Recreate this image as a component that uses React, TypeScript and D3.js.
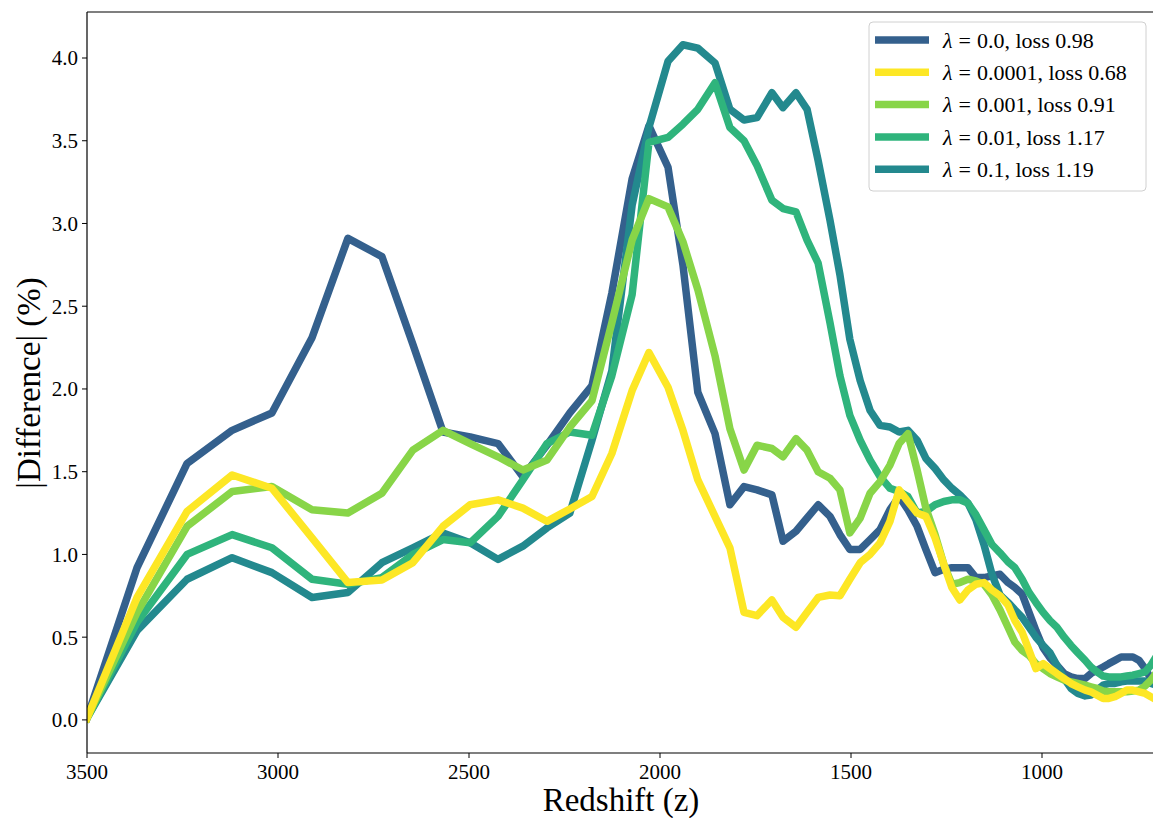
import React from "react";
import * as d3 from "d3";

// Redshift grid (shared by all curves)
const redshift: number[] = [
  3500, 3369, 3238, 3120, 3016, 2911, 2817, 2728, 2647, 2568,
  2497, 2424, 2359, 2296, 2236, 2178, 2126, 2073, 2029, 1979,
  1940, 1901, 1856, 1817, 1780, 1746, 1707, 1678, 1644, 1615,
  1586, 1555, 1529, 1503, 1476, 1450, 1424, 1398, 1374, 1351,
  1327, 1304, 1280, 1257, 1236, 1215, 1194, 1173, 1152, 1131,
  1110, 1089, 1071, 1052, 1034, 1016, 997, 979, 961, 942,
  924, 906, 887, 872, 856, 840, 825, 809, 793, 778,
  762, 746, 730, 715, 699,
];

const lam0: number[] = [
  0.01, 0.92, 1.55, 1.75, 1.855, 2.31, 2.91, 2.80, 2.27, 1.74,
  1.71, 1.67, 1.47, 1.66, 1.855, 2.02, 2.58, 3.27, 3.59, 3.34,
  2.75, 1.98, 1.73, 1.30, 1.41, 1.39, 1.36, 1.08, 1.14, 1.22,
  1.30, 1.23, 1.12, 1.03, 1.03, 1.09, 1.15, 1.27, 1.35, 1.27,
  1.17, 1.03, 0.89, 0.91, 0.92, 0.92, 0.92, 0.86, 0.86, 0.87,
  0.88, 0.83, 0.80, 0.76, 0.65, 0.54, 0.435, 0.375, 0.33, 0.28,
  0.26, 0.25, 0.25, 0.28, 0.30, 0.32, 0.34, 0.36, 0.38, 0.38,
  0.38, 0.36, 0.31, 0.25, 0.21,
];

const lam1e4: number[] = [
  0.01, 0.74, 1.26, 1.48, 1.40, 1.10, 0.83, 0.845, 0.95, 1.17,
  1.30, 1.33, 1.28, 1.20, 1.275, 1.35, 1.61, 1.99, 2.22, 2.01,
  1.75, 1.45, 1.23, 1.04, 0.65, 0.63, 0.725, 0.62, 0.56, 0.65,
  0.74, 0.755, 0.75, 0.85, 0.95, 1.00, 1.07, 1.20, 1.39, 1.32,
  1.25, 1.23, 1.10, 0.94, 0.80, 0.725, 0.785, 0.82, 0.83, 0.785,
  0.75, 0.695, 0.60, 0.53, 0.42, 0.31, 0.34, 0.31, 0.28, 0.25,
  0.22, 0.20, 0.18, 0.17, 0.15, 0.13, 0.13, 0.14, 0.16, 0.18,
  0.18, 0.17, 0.16, 0.14, 0.12,
];

const lam1e3: number[] = [
  0.01, 0.65, 1.17, 1.38, 1.41, 1.27, 1.25, 1.37, 1.63, 1.75,
  1.67, 1.59, 1.51, 1.57, 1.77, 1.93, 2.40, 2.90, 3.15, 3.10,
  2.89, 2.60, 2.20, 1.76, 1.51, 1.66, 1.64, 1.59, 1.70, 1.63,
  1.50, 1.46, 1.39, 1.13, 1.22, 1.37, 1.44, 1.54, 1.67, 1.73,
  1.51, 1.28, 1.12, 0.94, 0.82, 0.83, 0.85, 0.84, 0.82, 0.755,
  0.665, 0.56, 0.47, 0.42, 0.39, 0.34, 0.31, 0.28, 0.26, 0.24,
  0.23, 0.22, 0.21, 0.20, 0.19, 0.175, 0.17, 0.17, 0.17, 0.17,
  0.175, 0.18, 0.205, 0.24, 0.29,
];

const lam1e2: number[] = [
  0.01, 0.59, 1.00, 1.12, 1.04, 0.85, 0.82, 0.86, 1.00, 1.09,
  1.07, 1.23, 1.45, 1.67, 1.74, 1.72, 2.08, 2.57, 3.49, 3.52,
  3.60, 3.69, 3.85, 3.58, 3.50, 3.35, 3.14, 3.09, 3.07, 2.90,
  2.76, 2.40, 2.08, 1.84, 1.69, 1.57, 1.47, 1.40, 1.38, 1.35,
  1.25, 1.26, 1.30, 1.32, 1.33, 1.33, 1.31, 1.24, 1.15, 1.06,
  1.01, 0.955, 0.92, 0.85, 0.77, 0.71, 0.65, 0.60, 0.56, 0.50,
  0.45, 0.405, 0.36, 0.32, 0.29, 0.265, 0.26, 0.26, 0.26, 0.265,
  0.27, 0.28, 0.29, 0.33, 0.39,
];

const lam1e1: number[] = [
  0.01, 0.54, 0.85, 0.98, 0.89, 0.74, 0.77, 0.95, 1.04, 1.13,
  1.07, 0.97, 1.05, 1.16, 1.25, 1.69, 2.11, 3.11, 3.58, 3.98,
  4.08, 4.06, 3.97, 3.69, 3.625, 3.64, 3.79, 3.70, 3.79, 3.69,
  3.38, 3.02, 2.69, 2.30, 2.05, 1.87, 1.78, 1.77, 1.74, 1.75,
  1.69, 1.58, 1.52, 1.45, 1.40, 1.36, 1.31, 1.21, 1.06, 0.88,
  0.755, 0.71, 0.665, 0.62, 0.56, 0.50, 0.45, 0.405, 0.33, 0.25,
  0.19, 0.16, 0.145, 0.15, 0.18, 0.21, 0.22, 0.22, 0.23, 0.235,
  0.235, 0.235, 0.235, 0.22, 0.21,
];

const legendValues: string[] = [
  "0.0, loss 0.98",
  "0.0001, loss 0.68",
  "0.001, loss 0.91",
  "0.01, loss 1.17",
  "0.1, loss 1.19",
];
const seriesColors: string[] = ["#34608d", "#fde725", "#88d548", "#2fb47c", "#23898e"];
const seriesValues: number[][] = [lam0, lam1e4, lam1e3, lam1e2, lam1e1];
const drawOrder: number[] = [0, 4, 3, 2, 1];

const xTicks: number[] = [3500, 3000, 2500, 2000, 1500, 1000];
const yTicks: number[] = [0, 0.5, 1, 1.5, 2, 2.5, 3, 3.5, 4];

const W = 1153;
const H = 818;
const L = 87;
const T = 12;
const B = 753;
const R = 1200;
const FONT = "'Liberation Serif', 'DejaVu Serif', serif";

export default function App() {
  const x = d3.scaleLinear().domain([3500, 1000]).range([L, 1042]);
  const y = d3.scaleLinear().domain([-0.2, 4.278]).range([B, T]);
  const line = d3
    .line<[number, number]>()
    .x((d) => x(d[0]))
    .y((d) => y(d[1]));

  return (
    <svg
      width={W}
      height={H}
      style={{ position: "absolute", left: 0, top: 0, background: "#fff" }}
      fontFamily={FONT}
    >
      <defs>
        <clipPath id="plotclip">
          <rect x={L} y={T} width={R - L} height={B - T} />
        </clipPath>
      </defs>
      <rect x={0} y={0} width={W} height={H} fill="#fff" />
      <g clipPath="url(#plotclip)">
        {drawOrder.map((i) => (
          <path
            key={i}
            d={line(redshift.map((z, k) => [z, seriesValues[i][k]] as [number, number])) || ""}
            fill="none"
            stroke={seriesColors[i]}
            strokeWidth={7.5}
            strokeLinejoin="round"
            strokeLinecap="square"
          />
        ))}
      </g>
      {/* spines */}
      <line x1={L} x2={L} y1={T} y2={B} stroke="#000" strokeWidth={1.2} />
      <line x1={L} x2={W} y1={B} y2={B} stroke="#000" strokeWidth={1.2} />
      <line x1={L} x2={W} y1={T} y2={T} stroke="#000" strokeWidth={1.2} />
      {/* y ticks */}
      {yTicks.map((t) => (
        <g key={"y" + t}>
          <line x1={L - 5} x2={L} y1={y(t)} y2={y(t)} stroke="#000" strokeWidth={1} />
          <text x={L - 9} y={y(t)} dy="0.35em" textAnchor="end" fontSize={21} fill="#000">
            {t.toFixed(1)}
          </text>
        </g>
      ))}
      {/* x ticks */}
      {xTicks.map((t) => (
        <g key={"x" + t}>
          <line x1={x(t)} x2={x(t)} y1={B} y2={B + 5} stroke="#000" strokeWidth={1} />
          <text x={x(t)} y={B + 26} textAnchor="middle" fontSize={21} fill="#000">
            {t}
          </text>
        </g>
      ))}
      <text x={621} y={811} textAnchor="middle" fontSize={33} fill="#000">
        Redshift (z)
      </text>
      <text
        transform={`translate(40, ${383}) rotate(-90)`}
        textAnchor="middle"
        fontSize={33}
        fill="#000"
      >
        |Difference| (%)
      </text>
      {/* legend */}
      <rect x={869} y={22} width={277} height={169} rx={4} fill="#fff" fillOpacity={0.8} stroke="#d0d0d0" strokeWidth={1} />
      {legendValues.map((lab, i) => {
        const cy = 40 + i * 32.3;
        return (
          <g key={"l" + i}>
            <line x1={875} x2={929} y1={cy} y2={cy} stroke={seriesColors[i]} strokeWidth={7.5} />
            <text x={943} y={cy} dy="0.35em" fontSize={22} fill="#000">
              <tspan fontStyle="italic">λ</tspan>
              <tspan dx={6}>=</tspan>
              <tspan dx={6}>{lab}</tspan>
            </text>
          </g>
        );
      })}
    </svg>
  );
}
